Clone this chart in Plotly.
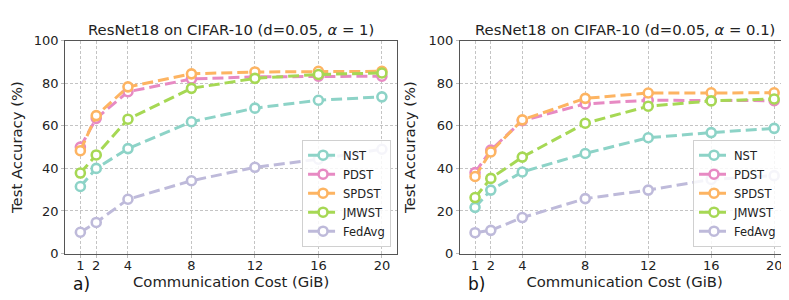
import plotly.graph_objects as go

cost = [1, 2, 4, 8, 12, 16, 20]
methods = ["NST", "PDST", "SPDST", "JMWST", "FedAvg"]
colors = ["#8dd3c7", "#e78ac3", "#fdb462", "#a6d854", "#bebada"]

# Panel a) alpha = 1
a_nst = [31.5, 40.0, 49.3, 61.9, 68.3, 72.0, 73.6]
a_pdst = [50.0, 63.5, 76.0, 82.0, 83.0, 83.3, 83.3]
a_spdst = [48.3, 64.8, 78.3, 84.4, 85.3, 85.6, 85.6]
a_jmwst = [37.8, 46.3, 63.1, 77.6, 82.3, 84.1, 84.8]
a_fedavg = [10.0, 14.6, 25.5, 34.2, 40.5, 44.3, 49.0]

# Panel b) alpha = 0.1
b_nst = [21.7, 29.8, 38.3, 47.0, 54.4, 56.8, 58.8]
b_pdst = [38.0, 48.6, 62.4, 70.3, 72.0, 72.0, 71.8]
b_spdst = [36.2, 47.7, 62.8, 72.9, 75.4, 75.5, 75.5]
b_jmwst = [26.3, 35.3, 45.3, 61.2, 69.2, 71.7, 72.6]
b_fedavg = [9.8, 10.9, 16.9, 25.8, 29.8, 34.8, 36.6]

panel_a = [a_nst, a_pdst, a_spdst, a_jmwst, a_fedavg]
panel_b = [b_nst, b_pdst, b_spdst, b_jmwst, b_fedavg]

titles = ["ResNet18 on CIFAR-10 (d=0.05, <i>α</i> = 1)",
          "ResNet18 on CIFAR-10 (d=0.05, <i>α</i> = 0.1)"]
panel_labels = ["a)", "b)"]
x_ticks = [1, 2, 4, 8, 12, 16, 20]
y_ticks = [0, 20, 40, 60, 80, 100]

FONT = "DejaVu Sans"
fig = go.Figure()

for p, (data, xa, ya, leg) in enumerate([(panel_a, "x", "y", "legend"),
                                         (panel_b, "x2", "y2", "legend2")]):
    for name, vals, col in zip(methods, data, colors):
        fig.add_trace(go.Scatter(
            x=cost, y=vals, name=name, mode="lines+markers",
            xaxis=xa, yaxis=ya, legend=leg,
            line=dict(color=col, width=3, dash="11px,5px"),
            marker=dict(symbol="circle", size=9, color="white",
                        line=dict(color=col, width=2.6)),
        ))

xdomains = [[0.0726, 0.493], [0.573, 0.990]]
ydomain = [0.163, 0.91]

axis_common = dict(
    showgrid=True, gridcolor="#c4c4c4", griddash="3px,2px", gridwidth=1,
    showline=True, linecolor="#555555", linewidth=1.2, mirror=True,
    ticks="outside", ticklen=3, tickcolor="#bbbbbb",
    tickfont=dict(family=FONT, size=13, color="#222222"),
    zeroline=False,
)

layout = dict(
    width=789, height=300,
    margin=dict(l=0, r=0, t=0, b=0),
    paper_bgcolor="white", plot_bgcolor="white",
    font=dict(family=FONT, color="#222222"),
)

for i, suf in enumerate(["", "2"]):
    layout["xaxis" + suf] = dict(
        axis_common, domain=xdomains[i], range=[0.05, 20.95],
        tickvals=x_ticks, anchor="y" + suf, ticklabelstandoff=-3,
        title=dict(text="Communication Cost (GiB)",
                   font=dict(family=FONT, size=14.8), standoff=0),
    )
    layout["yaxis" + suf] = dict(
        axis_common, domain=ydomain, range=[0, 100],
        tickvals=y_ticks, anchor="x" + suf,
        title=dict(text="Test Accuracy (%)",
                   font=dict(family=FONT, size=14.8), standoff=9),
    )

legend_common = dict(
    bgcolor="rgba(255,255,255,0.85)", bordercolor="#d0d0d0", borderwidth=1,
    font=dict(family=FONT, size=11.5, color="#222222"),
    xanchor="right", yanchor="bottom", itemwidth=30,
    tracegroupgap=0,
)
layout["legend"] = dict(legend_common, x=0.4855, y=0.187)
layout["legend2"] = dict(legend_common, x=0.981, y=0.187)

annotations = []
for i in range(2):
    cx = (xdomains[i][0] + xdomains[i][1]) / 2
    annotations.append(dict(
        text=titles[i], x=cx, y=ydomain[1] + 0.003, xref="paper", yref="paper",
        xanchor="center", yanchor="bottom", showarrow=False,
        font=dict(family=FONT, size=14.8, color="#222222"),
    ))
    annotations.append(dict(
        text=panel_labels[i], x=xdomains[i][0] + 0.007, y=0.057,
        xref="paper", yref="paper", xanchor="left", yanchor="middle",
        showarrow=False, font=dict(family=FONT, size=17, color="#111111"),
    ))
layout["annotations"] = annotations

fig.update_layout(**layout)
fig.write_html("out.html")
